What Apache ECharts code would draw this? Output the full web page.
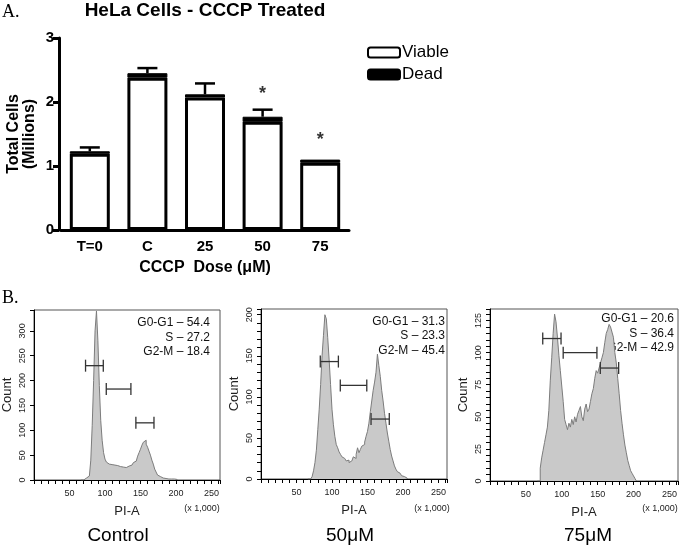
<!DOCTYPE html>
<html><head><meta charset="utf-8">
<script src="https://cdn.jsdelivr.net/npm/echarts@6/dist/echarts.min.js"></script>
<style>html,body{margin:0;padding:0;background:#fff}#c{width:685px;height:546px}</style>
</head><body><div id="c"></div>
<script>
// ---------- Panel A data ----------
const categories = ['T=0', 'C', '25', '50', '75'];
const viable = [1.19, 2.38, 2.07, 1.69, 1.05];
const dead = [0.04, 0.07, 0.05, 0.08, 0.05];
const sem = [0.06, 0.08, 0.17, 0.11, 0.0];
const asteriskAt = [[3, 2.13], [4, 1.40]];

// ---------- Panel B data (histograms, bins of 2k starting at 66k) ----------
const binStart = 66, binWidth = 2;
const controlCounts = [0,0,3,4,5,8,12,40,110,200,300,340,280,190,120,80,55,42,36,32,34,31,33,30,32,29,31,27,30,26,28,25,27,28,26,30,33,35,38,42,48,55,62,70,76,80,72,66,58,50,40,32,22,16,10,7,5,4,3,3,2,2,3,2,2,2,2,1,0];
const dose50Counts = [0,0,0,3,10,20,35,60,85,115,150,175,200,195,172,145,115,85,66,52,42,38,33,30,27,25,24,22,23,20,22,24,27,25,30,38,32,36,40,42,45,52,58,68,82,95,108,118,130,152,138,125,108,95,80,68,56,46,36,28,22,16,12,9,7,5,4,3,2,1,0];
const dose75Counts = [0,0,10,18,24,30,36,42,55,78,96,115,130,124,112,98,86,74,62,48,44,40,45,42,48,44,50,46,52,55,58,50,47,56,60,54,56,62,68,72,80,86,84,88,92,96,100,108,115,118,122,120,116,112,100,92,80,68,55,45,36,28,22,16,12,8,6,4,2,0];
// brackets [x1, x2, y]
const controlGates = [[72.6, 97.6, 230], [101.8, 136.5, 183], [143.5, 169, 115]];
const dose50Gates = [[83.5, 109, 143], [111.7, 149, 114], [155, 180.7, 73]];
const dose75Gates = [[73.5, 99, 111], [102, 149, 100], [153.7, 179.3, 88]];
const statLines = [
  ['G0-G1 \u2013 54.4', 'S \u2013 27.2', 'G2-M \u2013 18.4'],
  ['G0-G1 \u2013 31.3', 'S \u2013 23.3', 'G2-M \u2013 45.4'],
  ['G0-G1 \u2013 20.6', 'S \u2013 36.4', 'G2-M \u2013 42.9']
];
const panelNames = ['Control', '50\u03bcM', '75\u03bcM'];
const yMax = [342, 207, 134];
const yStep = [50, 10, 5];
const yLabelStep = [50, 50, 25];

const SANS = '"Liberation Sans", Arial, sans-serif';
const SERIF = '"Liberation Serif", "Times New Roman", serif';

function toXY(counts) {
  return counts.map((v, i) => [binStart + i * binWidth, v]);
}
const histData = [controlCounts, dose50Counts, dose75Counts].map(toXY);
const gateData = [controlGates, dose50Gates, dose75Gates];

const grids = [
  { left: 61, top: 38, width: 288, height: 192 },
  { left: 32, top: 310, width: 188, height: 170 },
  { left: 261, top: 309, width: 186, height: 170 },
  { left: 490, top: 309, width: 188, height: 172 }
];
grids.forEach((g, i) => { if (i > 0) { g.show = true; g.borderColor = '#555'; g.borderWidth = 1; } });

const xAxes = [{
  gridIndex: 0, type: 'category', data: categories,
  axisLine: { lineStyle: { color: '#000', width: 3 } },
  axisTick: { alignWithLabel: true, length: 6, lineStyle: { color: '#000', width: 3 } },
  axisLabel: { color: '#000', fontWeight: 'bold', fontSize: 15, fontFamily: SANS, margin: 9 },
  name: 'CCCP  Dose (\u03bcM)', nameLocation: 'middle', nameGap: 30,
  nameTextStyle: { color: '#000', fontWeight: 'bold', fontSize: 16, fontFamily: SANS }
}];
const yAxes = [{
  gridIndex: 0, type: 'value', min: 0, max: 3, interval: 1, offset: 2,
  axisLine: { show: true, lineStyle: { color: '#000', width: 3 } },
  axisTick: { show: true, length: 6, lineStyle: { color: '#000', width: 3 } },
  splitLine: { show: false },
  axisLabel: { color: '#000', fontWeight: 'bold', fontSize: 15, fontFamily: SANS, margin: 5 },
  name: 'Total Cells\n(Millions)', nameLocation: 'middle', nameGap: 21, nameRotate: 90,
  nameTextStyle: { color: '#000', fontWeight: 'bold', fontSize: 16, fontFamily: SANS, lineHeight: 16 }
}];
for (let k = 0; k < 3; k++) {
  xAxes.push({
    gridIndex: k + 1, type: 'value', min: 0, max: 262, interval: 10,
    axisLine: { lineStyle: { color: '#000', width: 1 } },
    axisTick: { length: 4, lineStyle: { color: '#000', width: 1 } },
    splitLine: { show: false },
    axisLabel: { interval: 0, color: '#222', fontSize: 9, fontFamily: SANS, margin: 9,
      formatter: v => (v > 0 && v % 50 === 0) ? String(v) : '' },
    name: 'PI-A', nameLocation: 'middle', nameGap: 25,
    nameTextStyle: { color: '#222', fontSize: 13, fontFamily: SANS }
  });
  yAxes.push({
    gridIndex: k + 1, type: 'value', min: 0, max: yMax[k], interval: yStep[k],
    axisLine: { show: true, lineStyle: { color: '#000', width: 1 } },
    axisTick: { show: true, length: 4, lineStyle: { color: '#000', width: 1 } },
    splitLine: { show: false },
    axisLabel: { interval: 0, rotate: 90, color: '#222', fontSize: 9, fontFamily: SANS, margin: 7,
      formatter: v => (v % yLabelStep[k] === 0) ? String(v) : '' },
    name: 'Count', nameLocation: 'middle', nameGap: 20, nameRotate: 90,
    nameTextStyle: { color: '#222', fontSize: 13, fontFamily: SANS }
  });
}

const series = [
  { name: 'Viable', type: 'bar', stack: 'a', xAxisIndex: 0, yAxisIndex: 0, barWidth: 40, data: viable,
    itemStyle: { color: '#fff', borderColor: '#000', borderWidth: 3 } },
  { name: 'Dead', type: 'bar', stack: 'a', xAxisIndex: 0, yAxisIndex: 0, barWidth: 40, data: dead,
    itemStyle: { color: '#000', borderColor: '#000', borderWidth: 1 } },
  { name: 'err', type: 'custom', xAxisIndex: 0, yAxisIndex: 0, z: 5,
    data: categories.map((c, i) => [i, viable[i] + dead[i], viable[i] + dead[i] + sem[i]]),
    renderItem: (params, api) => {
      const p0 = api.coord([api.value(0), api.value(1)]);
      const p1 = api.coord([api.value(0), api.value(2)]);
      if (p0[1] - p1[1] < 1) return { type: 'group', children: [] };
      const hw = 10;
      return { type: 'group', children: [
        { type: 'line', shape: { x1: p0[0], y1: p0[1], x2: p1[0], y2: p1[1] }, style: { stroke: '#000', lineWidth: 2.5 } },
        { type: 'line', shape: { x1: p1[0] - hw, y1: p1[1], x2: p1[0] + hw, y2: p1[1] }, style: { stroke: '#000', lineWidth: 2.5 } }
      ] };
    } },
  { name: 'sig', type: 'scatter', xAxisIndex: 0, yAxisIndex: 0, symbolSize: 0, data: asteriskAt,
    label: { show: true, position: 'inside', formatter: '*', color: '#000', fontSize: 18, fontWeight: 'bold', fontFamily: SANS } }
];
for (let k = 0; k < 3; k++) {
  series.push({
    type: 'line', xAxisIndex: k + 1, yAxisIndex: k + 1, data: histData[k], step: 'end',
    symbol: 'none', lineStyle: { color: '#7c7c7c', width: 1 },
    areaStyle: { color: '#c9c9c9', opacity: 1 }, silent: true
  });
  series.push({
    type: 'custom', xAxisIndex: k + 1, yAxisIndex: k + 1, data: gateData[k], z: 5,
    renderItem: (params, api) => {
      const a = api.coord([api.value(0), api.value(2)]);
      const b = api.coord([api.value(1), api.value(2)]);
      const h = 6;
      const st = { stroke: '#333', lineWidth: 1.3 };
      return { type: 'group', children: [
        { type: 'line', shape: { x1: a[0], y1: a[1], x2: b[0], y2: b[1] }, style: st },
        { type: 'line', shape: { x1: a[0], y1: a[1] - h, x2: a[0], y2: a[1] + h }, style: st },
        { type: 'line', shape: { x1: b[0], y1: b[1] - h, x2: b[0], y2: b[1] + h }, style: st }
      ] };
    }
  });
}

const graphics = [
  { type: 'text', left: 2, top: 3, style: { text: 'A.', font: '18px ' + SERIF, fill: '#000' } },
  { type: 'text', left: 2, top: 289, style: { text: 'B.', font: '18px ' + SERIF, fill: '#000' } },
  { type: 'text', x: 205, y: 11, style: { text: 'HeLa Cells - CCCP Treated', font: 'bold 19px ' + SANS, fill: '#000', textAlign: 'center', textVerticalAlign: 'middle' } }
];
const statRight = [210, 445, 674];
const statTop = [323, 321.5, 319];
const xUnitX = [202, 432, 660];
const nameX = [118, 350, 588];
for (let k = 0; k < 3; k++) {
  statLines[k].forEach((t, j) => {
    graphics.push({ type: 'text', x: statRight[k], y: statTop[k] + j * 14.5,
      style: { text: t, font: '12px ' + SANS, fill: '#111', textAlign: 'right', textVerticalAlign: 'middle' } });
  });
  graphics.push({ type: 'text', x: xUnitX[k], y: 509,
    style: { text: '(x 1,000)', font: '9px ' + SANS, fill: '#222', textAlign: 'center', textVerticalAlign: 'middle' } });
  graphics.push({ type: 'text', x: nameX[k], y: 536,
    style: { text: panelNames[k], font: '19px ' + SANS, fill: '#000', textAlign: 'center', textVerticalAlign: 'middle' } });
}

const chart = echarts.init(document.getElementById('c'), null, { renderer: 'canvas' });
chart.setOption({
  animation: false,
  backgroundColor: '#fff',
  grid: grids,
  xAxis: xAxes,
  yAxis: yAxes,
  legend: {
    data: ['Viable', 'Dead'], orient: 'vertical', left: 367, top: 44, padding: 0,
    itemWidth: 32, itemHeight: 10, itemGap: 5,
    textStyle: { color: '#000', fontSize: 17, fontFamily: SANS, padding: [0, 0, 0, -3] }
  },
  series: series,
  graphic: graphics
});
</script>
</body></html>
